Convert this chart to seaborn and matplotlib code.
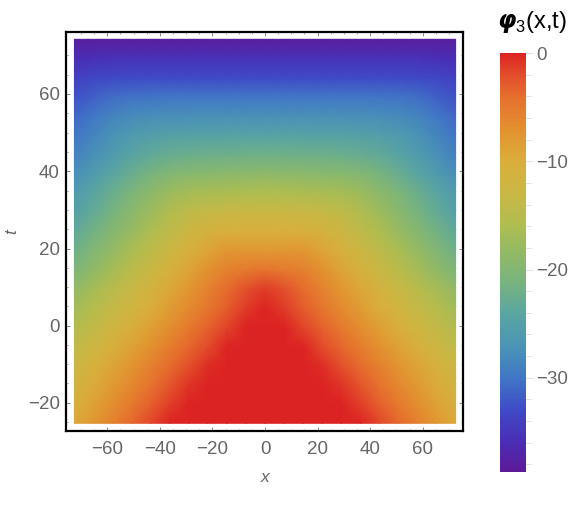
import numpy as np
import matplotlib
matplotlib.use("Agg")
import matplotlib.pyplot as plt
from matplotlib.colors import LinearSegmentedColormap
from matplotlib.ticker import FixedLocator
import seaborn as sns

sns.set_theme(style="white")
plt.rcParams['font.family'] = ['Liberation Sans', 'DejaVu Sans']
plt.rcParams['mathtext.fontset'] = 'custom'
plt.rcParams['mathtext.rm'] = 'Liberation Sans'
plt.rcParams['mathtext.it'] = 'DejaVu Sans:italic:bold'

# values
x_values = [-72.5, -65.25, -58, -50.75, -43.5, -36.25, -29, -21.75, -14.5, -7.25, 0,
            7.25, 14.5, 21.75, 29, 36.25, 43.5, 50.75, 58, 65.25, 72.5]
t_values = [-25.3, -20.3, -15.4, -10.4, -5.4, -0.4, 4.55, 9.5, 14.5, 19.5, 24.5,
            29.4, 34.4, 39.4, 44.3, 49.3, 54.3, 59.2, 64.2, 69.2, 74.2]
x_ticks = [-60, -40, -20, 0, 20, 40, 60]
t_ticks = [-20, 0, 20, 40, 60]
bar_ticks = [0, -10, -20, -30]

phi = [
    [-9.5, -7.6, -5.6, -3.7, -1.7, 0, 0, 0, 0, 0, 0, 0, 0, 0, 0, 0, -1.7, -3.7, -5.6, -7.6, -9.5],
    [-10.5, -8.7, -6.8, -5, -3.2, -1.3, 0, 0, 0, 0, 0, 0, 0, 0, 0, -1.3, -3.2, -5, -6.8, -8.7, -10.5],
    [-11.5, -9.7, -8, -6.2, -4.4, -2.6, -.9, 0, 0, 0, 0, 0, 0, 0, -.9, -2.6, -4.4, -6.2, -8, -9.7, -11.5],
    [-12.5, -10.8, -9.1, -7.4, -5.6, -3.9, -2.2, -.5, 0, 0, 0, 0, 0, -.5, -2.2, -3.9, -5.6, -7.4, -9.1, -10.8, -12.5],
    [-14, -12.3, -10.5, -8.8, -7.1, -5.3, -3.6, -1.9, -.1, 0, 0, 0, -.1, -1.9, -3.6, -5.3, -7.1, -8.8, -10.5, -12.3, -14],
    [-15.5, -13.8, -12, -10.3, -8.5, -6.8, -5, -3.3, -1.6, 0, 0, 0, -1.6, -3.3, -5, -6.8, -8.5, -10.3, -12, -13.8, -15.5],
    [-17, -15.2, -13.5, -11.7, -10, -8.2, -6.5, -4.7, -3, -1.2, -.1, -1.2, -3, -4.7, -6.5, -8.2, -10, -11.7, -13.5, -15.2, -17],
    [-18.5, -16.7, -14.9, -13, -11.2, -9.4, -7.5, -5.7, -3.9, -2.2, -1.2, -2.2, -3.9, -5.7, -7.5, -9.4, -11.2, -13, -14.9, -16.7, -18.5],
    [-20.5, -18.6, -16.7, -14.8, -12.8, -10.9, -9, -7.1, -5.6, -5, -4.6, -5, -5.6, -7.1, -9, -10.9, -12.8, -14.8, -16.7, -18.6, -20.5],
    [-22, -20.1, -18.2, -16.3, -14.4, -12.5, -10.7, -9, -7.7, -7.7, -7.8, -7.7, -7.7, -9, -10.7, -12.5, -14.4, -16.3, -18.2, -20.1, -22],
    [-23.5, -21.6, -19.8, -17.9, -16, -14.2, -12.4, -11, -10.4, -10.3, -10.3, -10.3, -10.4, -11, -12.4, -14.2, -16, -17.9, -19.8, -21.6, -23.5],
    [-25, -23.1, -21.2, -19.3, -17.4, -15.6, -14.2, -13.4, -13, -12.8, -12.7, -12.8, -13, -13.4, -14.2, -15.6, -17.4, -19.3, -21.2, -23.1, -25],
    [-26, -24.2, -22.4, -20.6, -19, -17.5, -16.7, -16.4, -16.2, -16, -16, -16, -16.2, -16.4, -16.7, -17.5, -19, -20.6, -22.4, -24.2, -26],
    [-27.5, -25.9, -24.2, -22.6, -21.2, -20, -19.5, -19.2, -19, -18.9, -18.8, -18.9, -19, -19.2, -19.5, -20, -21.2, -22.6, -24.2, -25.9, -27.5],
    [-29, -27.4, -25.9, -24.5, -23.3, -22.7, -22.4, -22.2, -22.1, -22, -22, -22, -22.1, -22.2, -22.4, -22.7, -23.3, -24.5, -25.9, -27.4, -29],
    [-30, -28.6, -27.1, -26, -25.4, -25, -24.9, -24.8, -24.7, -24.7, -24.7, -24.7, -24.7, -24.8, -24.9, -25, -25.4, -26, -27.1, -28.6, -30],
    [-31, -29.9, -28.7, -28, -27.7, -27.6, -27.5, -27.5, -27.5, -27.5, -27.5, -27.5, -27.5, -27.5, -27.5, -27.6, -27.7, -28, -28.7, -29.9, -31],
    [-32.5, -31.5, -30.6, -30.2, -30.1, -30, -30, -30, -30, -30, -30, -30, -30, -30, -30, -30, -30.1, -30.2, -30.6, -31.5, -32.5],
    [-34, -33.4, -33.1, -33, -33, -33, -33, -33, -33, -33, -33, -33, -33, -33, -33, -33, -33, -33, -33.1, -33.4, -34],
    [-36, -35.7, -35.5, -35.5, -35.5, -35.5, -35.5, -35.5, -35.5, -35.5, -35.5, -35.5, -35.5, -35.5, -35.5, -35.5, -35.5, -35.5, -35.5, -35.7, -36],
    [-38, -38, -38, -38, -38, -38, -38, -38, -38, -38, -38, -38, -38, -38, -38, -38, -38, -38, -38, -38, -38],
]

stops = [(-38.7, "#5E1A96"), (-36, "#4A2DB5"), (-33, "#3F4AC6"), (-30, "#4177C6"), (-27, "#4A95B5"),
         (-24, "#5BA6A0"), (-21, "#7AB57C"), (-18, "#96BA62"), (-16, "#AFBD50"), (-13, "#C9B845"),
         (-10, "#DAAE3C"), (-7, "#E3912F"), (-4, "#E66E2E"), (-2, "#E34D2B"), (0, "#DC2323")]
vmin, vmax = -38.7, 0
rainbow = LinearSegmentedColormap.from_list(
    "rainbow_wl", [((v - vmin) / (vmax - vmin), c) for v, c in stops], N=512)

W, H = 581, 520
GREY = "#666666"
fig = plt.figure(figsize=(W / 100, H / 100), dpi=100)
ax = fig.add_axes([66 / W, 1 - 431 / H, 397 / W, 399 / H])
cax = fig.add_axes([500 / W, 1 - 472 / H, 26 / W, 419 / H])

sns.heatmap(np.array(phi), ax=ax, cbar_ax=cax, cmap=rainbow, vmin=vmin, vmax=vmax,
            shading="gouraud", xticklabels=False, yticklabels=False, rasterized=True)


# map data units onto the heatmap's cell index
def x_pos(v):
    return np.interp(v, x_values, np.arange(len(x_values)))


def t_pos(v):
    return np.interp(v, t_values, np.arange(len(t_values)))


dx = x_values[1] - x_values[0]
dt = t_values[1] - t_values[0]
ax.set_xlim((-75.7 - x_values[0]) / dx, (75.3 - x_values[0]) / dx)
ax.set_ylim((-27.3 - t_values[0]) / dt, (76.6 - t_values[0]) / dt)

ax.set_xticks(x_pos(x_ticks), [str(v).replace("-", "\u2212") for v in x_ticks])
ax.set_yticks(t_pos(t_ticks), [str(v).replace("-", "\u2212") for v in t_ticks])
ax.xaxis.set_minor_locator(FixedLocator(x_pos(np.arange(-70, 71, 5))))
ax.yaxis.set_minor_locator(FixedLocator(t_pos(np.arange(-25, 75, 5))))
ax.tick_params(which="major", direction="in", length=3, width=0.7, color="#888888",
               labelsize=13.5, labelcolor=GREY, bottom=True, left=True, top=True, right=True)
ax.tick_params(which="minor", direction="in", length=1.5, width=0.6, color="#999999",
               bottom=True, left=True, top=True, right=True)
ax.tick_params(axis="x", which="major", pad=7)
ax.tick_params(axis="y", which="major", pad=4.5)
for s in ax.spines.values():
    s.set_visible(True)
    s.set_color("black")
    s.set_linewidth(1.6)

fig.text(265 / W, 1 - 477 / H, "x", style="italic", color=GREY, fontsize=12.5, ha="center", va="center")
fig.text(12 / W, 1 - 232 / H, "t", style="italic", color=GREY, fontsize=12.5, ha="center", va="center", rotation=90)

cb = ax.collections[0].colorbar
cb.outline.set_visible(False)
cax.yaxis.set_ticks(bar_ticks, [str(v).replace("-", "\u2212") for v in bar_ticks])
cax.yaxis.set_minor_locator(FixedLocator(np.arange(-38, 1, 2)))
cax.tick_params(which="major", length=5, width=0.7, color="#e0e0e0", labelsize=13.5,
                labelcolor=GREY, pad=2.5, right=True, left=False)
cax.tick_params(which="minor", length=3.5, width=0.7, color="#e0e0e0", right=True, left=False)

fig.text(532 / W, 1 - 22 / H, r"$\varphi_3$(x,t)", color="black", fontsize=17, ha="center", va="center")

fig.savefig("out.png", dpi=100)
